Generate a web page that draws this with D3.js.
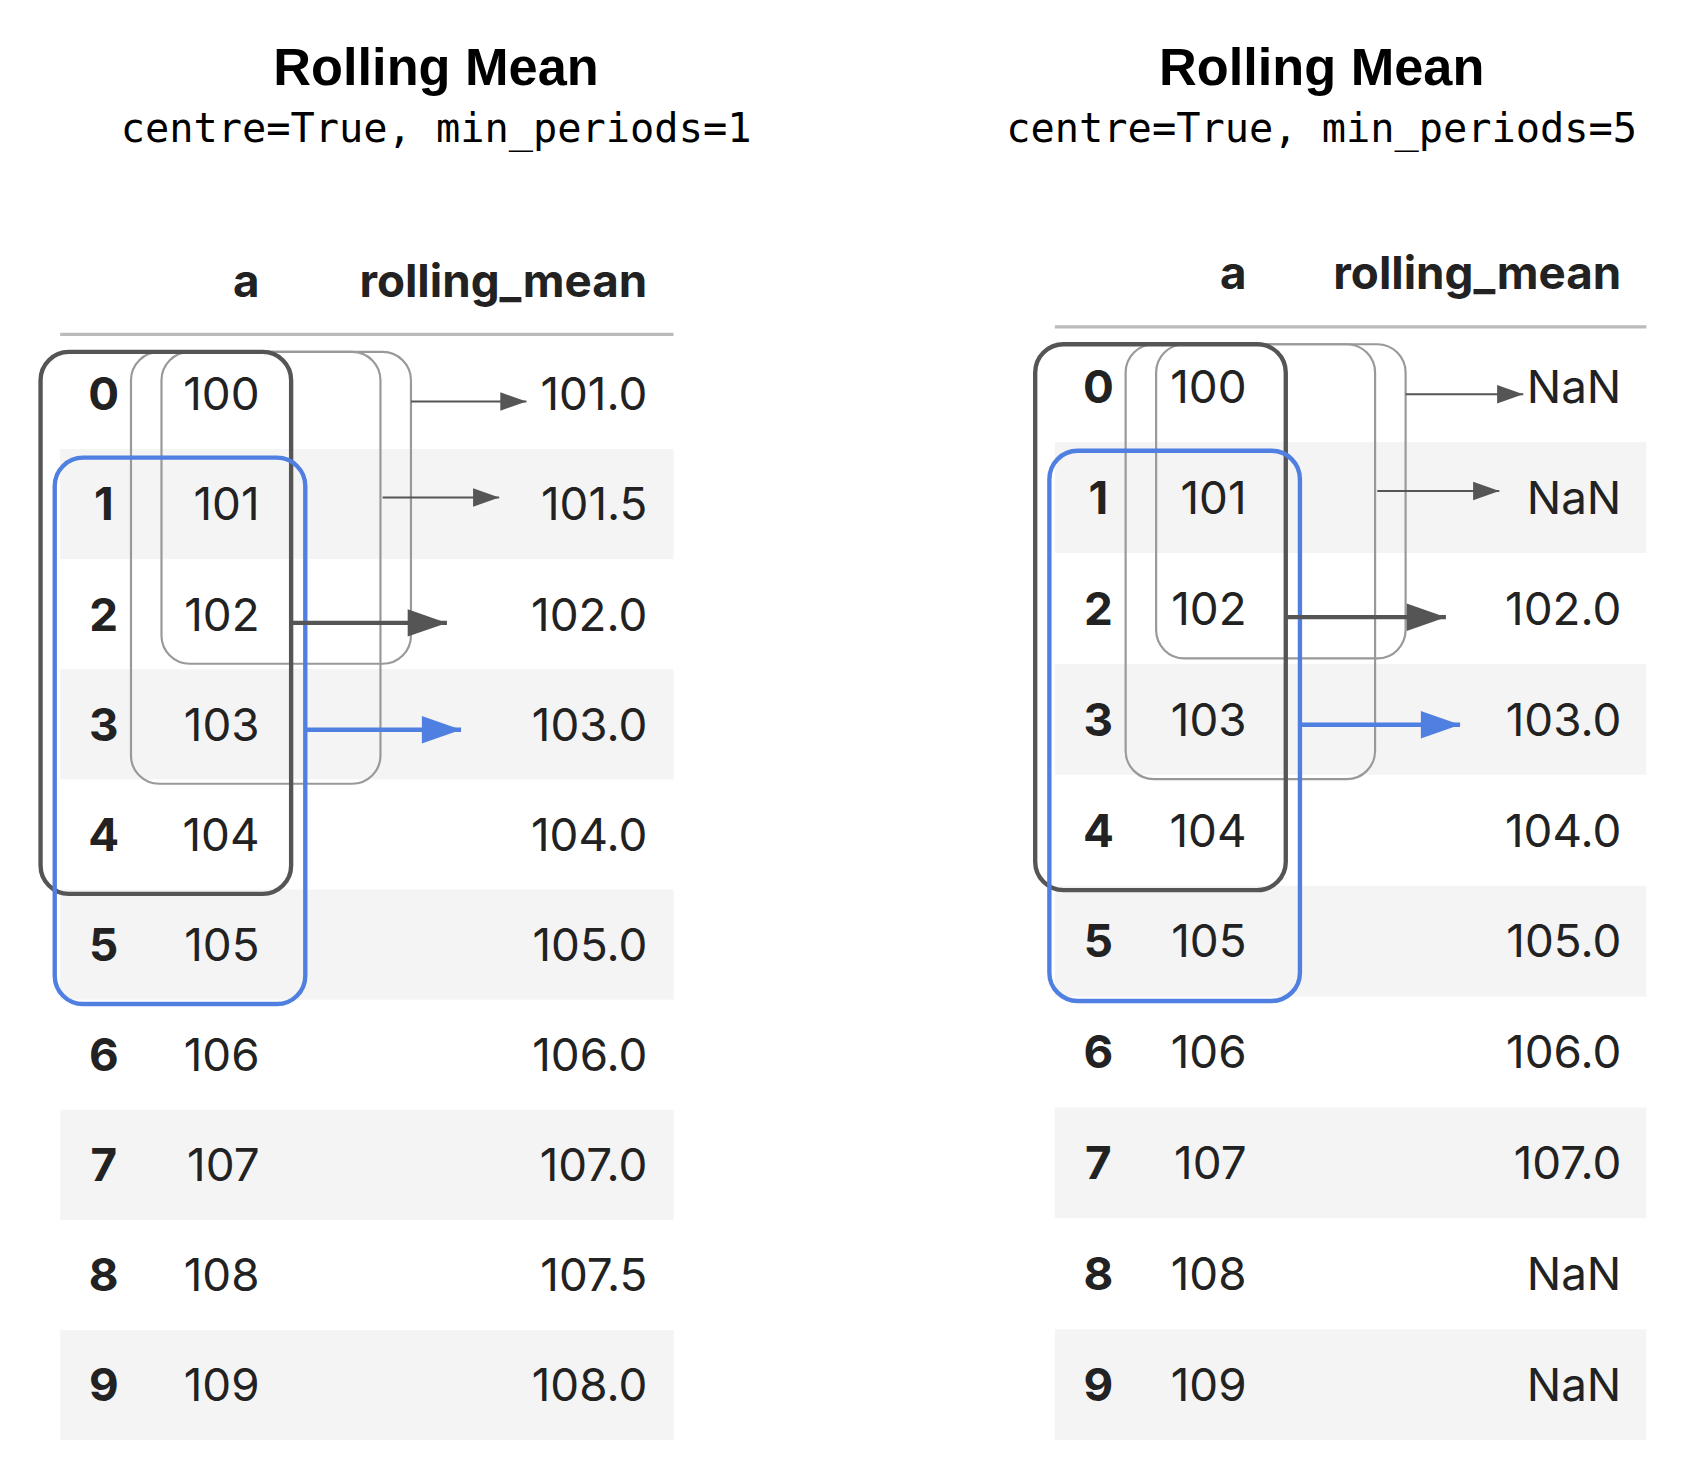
<!DOCTYPE html>
<html><head><meta charset="utf-8">
<script src="https://cdn.jsdelivr.net/npm/d3@7"></script>
<style>body{margin:0;background:#fff}</style>
</head><body>
<script>
// data
const rowIndex = [0,1,2,3,4,5,6,7,8,9];
const aValues = [100,101,102,103,104,105,106,107,108,109];
const meanMinP1 = ["101.0","101.5","102.0","103.0","104.0","105.0","106.0","107.0","107.5","108.0"];
const meanMinP5 = ["NaN","NaN","102.0","103.0","104.0","105.0","106.0","107.0","NaN","NaN"];
const panelTitles = ["Rolling Mean","Rolling Mean"];
const panelSubs = ["centre=True, min_periods=1","centre=True, min_periods=5"];

const svg = d3.select("body").append("svg")
  .attr("width",1700).attr("height",1462)
  .attr("viewBox","0 0 1560 1342");

const defs = svg.append("defs");
[["ag","#555"],["ab","#4f7fe0"]].forEach(([id,c])=>{
  defs.append("marker").attr("id",id).attr("viewBox","0 0 10 10")
    .attr("refX",10).attr("refY",5).attr("markerWidth",6).attr("markerHeight",6)
    .attr("markerUnits","userSpaceOnUse").attr("orient","auto")
    .append("path").attr("d","M0,0L10,5L0,10Z").attr("fill",c);
});

const panels = [
  {dx:0, title:400, headY:258, lineY:307, top:311, means:meanMinP1, arrowEnd:[483,458,410,423]},
  {dx:913, title:1213, headY:250, lineY:300, top:304, means:meanMinP5, arrowEnd:[1398,1376,1327,1340]}
];

panels.forEach((p,pi)=>{
  const g = svg.append("g");
  g.append("text").attr("x",p.title).attr("y",78).attr("text-anchor","middle")
    .attr("font-family","Liberation Sans, Arial").attr("font-weight","bold").attr("font-size",48)
    .text(panelTitles[pi]);
  g.append("text").attr("x",p.title).attr("y",130).attr("text-anchor","middle")
    .attr("font-family","DejaVu Sans Mono, monospace").attr("font-size",37)
    .text(panelSubs[pi]);

  const x0 = 55+p.dx, x1 = 618+p.dx - (pi?20:0);
  const y = d3.scaleBand().domain(rowIndex).range([p.top, 1322]);
  const font = "Inter, Roboto, sans-serif";

  g.selectAll("rect.band").data(rowIndex.filter(d=>d%2)).join("rect")
    .attr("x",x0).attr("width",x1-x0).attr("y",d=>y(d)).attr("height",y.bandwidth())
    .attr("fill","#f4f4f4");
  g.append("line").attr("x1",x0).attr("x2",x1).attr("y1",p.lineY).attr("y2",p.lineY)
    .attr("stroke","#bbb").attr("stroke-width",3);

  const colIdx = 95+p.dx, colA = 238+p.dx - (pi?7:0), colM = 594+p.dx - (pi?19:0);
  g.append("text").attr("x",colA).attr("y",p.headY+15).attr("text-anchor","end")
    .attr("font-family",font).attr("font-weight","bold").attr("font-size",42).attr("fill","#222").text("a");
  g.append("text").attr("x",colM).attr("y",p.headY+15).attr("text-anchor","end")
    .attr("font-family",font).attr("font-weight","bold").attr("font-size",42).attr("fill","#222").text("rolling_mean");

  const cy = d => y(d)+y.bandwidth()/2+15;
  g.selectAll("text.idx").data(rowIndex).join("text")
    .attr("x",colIdx).attr("y",cy).attr("text-anchor","middle")
    .attr("font-family",font).attr("font-weight","bold").attr("font-size",42).attr("fill","#222").text(d=>d);
  g.selectAll("text.a").data(rowIndex).join("text")
    .attr("x",colA).attr("y",cy).attr("text-anchor","end")
    .attr("font-family",font).attr("font-size",42).attr("fill","#222").text(d=>aValues[d]);
  g.selectAll("text.m").data(rowIndex).join("text")
    .attr("x",colM).attr("y",cy).attr("text-anchor","end")
    .attr("font-family",font).attr("font-size",42).attr("fill","#222").text(d=>p.means[d]);

  // window boxes
  const boxes = [
    {x:120, w:229, r0:0, r1:3, c:"#999", sw:2},
    {x:148, w:229, r0:0, r1:2, c:"#999", sw:2, bot:-5},
    {x:37, w:230, r0:0, r1:4, c:"#555", sw:4},
    {x:50, w:230, r0:1, r1:5, c:"#4f7fe0", sw:4}
  ];
  boxes.forEach(b=>{
    const yt = b.r0===0 ? p.top+12 : y(b.r0)+8;
    const yb = y(b.r1)+y.bandwidth()+(b.bot||4);
    g.append("rect").attr("x",b.x+p.dx).attr("y",yt).attr("width",b.w).attr("height",yb-yt)
      .attr("rx",26).attr("fill","none").attr("stroke",b.c).attr("stroke-width",b.sw);
  });

  const arrows = [
    {from:377, row:0, dy:7, c:"#555", sw:2, m:"ag"},
    {from:351, row:1, dy:-6, c:"#555", sw:2, m:"ag"},
    {from:267, row:2, dy:8, c:"#555", sw:4, m:"ag"},
    {from:280, row:3, dy:5, c:"#4f7fe0", sw:4, m:"ab"}
  ];
  arrows.forEach((a,i)=>{
    const yy = y(a.row)+y.bandwidth()/2+a.dy;
    const ms = a.sw>2?36:24;
    g.append("line").attr("x1",a.from+p.dx).attr("x2",p.arrowEnd[i]).attr("y1",yy).attr("y2",yy)
      .attr("stroke",a.c).attr("stroke-width",a.sw);
    g.append("path").attr("d",`M${p.arrowEnd[i]-ms},${yy-ms*0.35}L${p.arrowEnd[i]},${yy}L${p.arrowEnd[i]-ms},${yy+ms*0.35}Z`)
      .attr("fill",a.c);
  });
});
</script>
</body></html>
